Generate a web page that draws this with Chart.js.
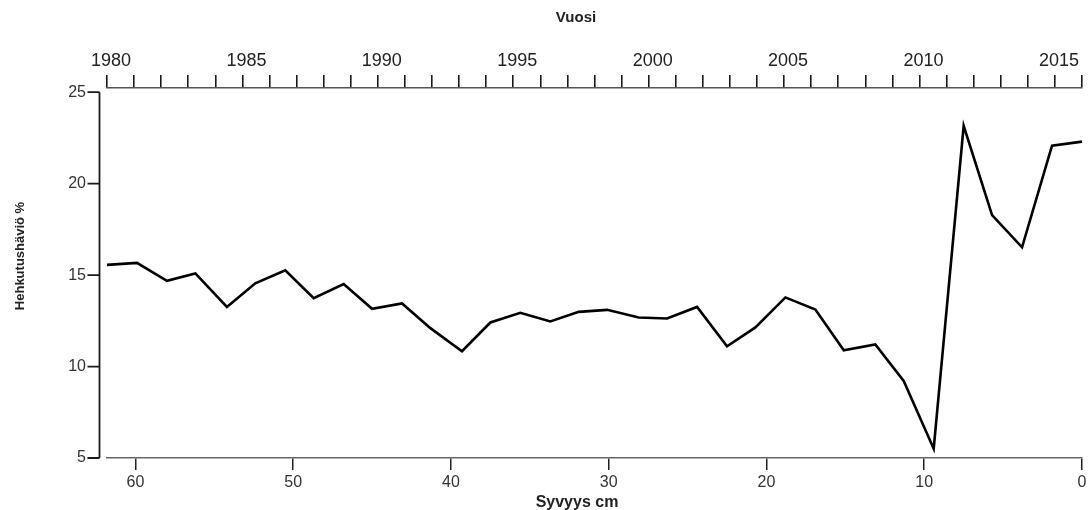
<!DOCTYPE html>
<html>
<head>
<meta charset="utf-8">
<script src="https://cdn.jsdelivr.net/npm/chart.js@4.4.1/dist/chart.umd.min.js"></script>
<style>
  body { margin: 0; background: #fff; }
  canvas { display: block; }
</style>
</head>
<body>
<canvas id="loiChart" width="1091" height="510"></canvas>
<script>
// depth of each sample (cm) and loss on ignition (%)
var depthCm = [61.8, 59.9, 58.0, 56.2, 54.2, 52.4, 50.5, 48.7, 46.8, 45.0, 43.1, 41.3,
  39.3, 37.5, 35.6, 33.7, 31.9, 30.1, 28.1, 26.3, 24.4, 22.5, 20.7, 18.8, 16.9, 15.1,
  13.1, 11.3, 9.4, 7.5, 5.7, 3.8, 1.9, 0.0];
var lossOnIgnition = [15.56, 15.67, 14.69, 15.09, 13.26, 14.55, 15.26, 13.74, 14.51, 13.16,
  13.45, 12.1, 10.84, 12.41, 12.94, 12.47, 12.99, 13.1, 12.68, 12.63, 13.26, 11.11, 12.14,
  13.78, 13.12, 10.89, 11.21, 9.21, 5.51, 23.16, 18.28, 16.52, 22.08, 22.3];

var depthTicks = [60, 50, 40, 30, 20, 10, 0];
var valueTicks = [5, 10, 15, 20, 25];
var yearLabels = [1980, 1985, 1990, 1995, 2000, 2005, 2010, 2015];
var firstYear = 1980;
var lastYear = 2016;

var FONT = "'Liberation Sans', Arial, sans-serif";

var yearTicks = [];
for (var yr = firstYear; yr <= lastYear; yr++) yearTicks.push({ value: yr });

// y axis sits a little left of the plot, titles placed like the original
var axisExtras = {
  id: "axisExtras",
  afterDraw: function (chart) {
    var ctx = chart.ctx;
    var y = chart.scales.y;
    var lineX = chart.chartArea.left - 7.5;
    ctx.save();
    ctx.strokeStyle = "#1a1a1a";
    ctx.lineWidth = 1.8;
    ctx.beginPath();
    ctx.moveTo(lineX, y.getPixelForValue(valueTicks[valueTicks.length - 1]));
    ctx.lineTo(lineX, y.getPixelForValue(valueTicks[0]));
    valueTicks.forEach(function (v) {
      var py = y.getPixelForValue(v);
      ctx.moveTo(lineX - 12, py);
      ctx.lineTo(lineX, py);
    });
    ctx.stroke();

    ctx.fillStyle = "#222";
    ctx.textAlign = "center";
    ctx.textBaseline = "alphabetic";
    ctx.font = "bold 15px " + FONT;
    ctx.fillText("Vuosi", 576, 22);
    ctx.font = "bold 16px " + FONT;
    ctx.fillText("Syvyys cm", 577, 507);
    ctx.font = "bold 13px " + FONT;
    ctx.translate(24, 256);
    ctx.rotate(-Math.PI / 2);
    ctx.fillText("Hehkutushäviö %", 0, 0);
    ctx.restore();
  }
};

var ctx = document.getElementById("loiChart").getContext("2d");
var loiChart = new Chart(ctx, {
  type: "line",
  plugins: [axisExtras],
  data: {
    datasets: [
      {
        data: depthCm.map(function (d, i) { return { x: d, y: lossOnIgnition[i] }; }),
        xAxisID: "x",
        yAxisID: "y",
        borderColor: "#000",
        borderWidth: 2.6,
        pointRadius: 0,
        tension: 0,
        clip: false,
      },
    ],
  },
  options: {
    responsive: false,
    animation: false,
    layout: { padding: { left: 0, right: 9, top: 0, bottom: 0 } },
    plugins: {
      legend: { display: false },
      tooltip: { enabled: false },
    },
    scales: {
      x: {
        type: "linear",
        position: "bottom",
        reverse: true,
        min: 0,
        max: 61.8,
        afterFit: function (s) { s.height = 52; },
        afterBuildTicks: function (s) {
          s.ticks = depthTicks.map(function (v) { return { value: v }; });
        },
        grid: { drawOnChartArea: false, drawTicks: true, tickLength: 12, color: "#222", lineWidth: 1.5 },
        border: { display: true, color: "#666", width: 1.5 },
        ticks: {
          font: { family: FONT, size: 16 },
          color: "#333",
          padding: 3,
          maxRotation: 0,
          autoSkip: false,
        },
      },
      x2: {
        type: "linear",
        position: "top",
        min: firstYear,
        max: lastYear,
        afterFit: function (s) { s.height = 88; },
        afterBuildTicks: function (s) { s.ticks = yearTicks.slice(); },
        grid: { drawOnChartArea: false, drawTicks: true, tickLength: 13, color: "#1a1a1a", lineWidth: 1.6 },
        border: { display: true, color: "#555", width: 1.5 },
        ticks: {
          font: { family: FONT, size: 18 },
          color: "#222",
          padding: 3,
          labelOffset: 4,
          maxRotation: 0,
          autoSkip: false,
          callback: function (value) {
            var v = Math.round(value);
            return yearLabels.indexOf(v) >= 0 ? String(v) : "";
          },
        },
      },
      y: {
        type: "linear",
        position: "left",
        min: 5,
        max: 25.23,
        afterFit: function (s) { s.width = 107; },
        afterBuildTicks: function (s) {
          s.ticks = valueTicks.map(function (v) { return { value: v }; });
        },
        grid: { display: false, drawTicks: false },
        border: { display: false },
        ticks: {
          font: { family: FONT, size: 16 },
          color: "#333",
          padding: 21,
        },
      },
    },
  },
});
</script>
</body>
</html>
